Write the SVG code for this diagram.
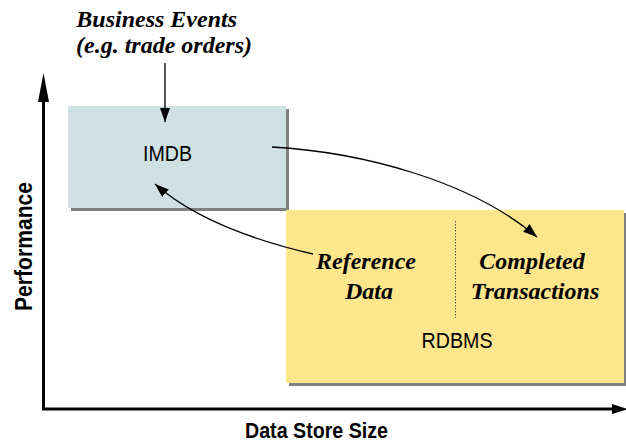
<svg xmlns="http://www.w3.org/2000/svg" width="626" height="445" viewBox="0 0 626 445">
  <style>
    .sans { font-family: "Liberation Sans", Arial, sans-serif; fill: #000; }
    .label { font-size: 22px; }
    .axis-label { font-weight: bold; }
    .serif-bi { font-family: "Liberation Serif", "Times New Roman", serif; font-weight: bold; font-style: italic; fill: #000; }
    .shadow { fill: #808080; }
    .conn { fill: none; stroke: #000; stroke-width: 1.3; }
    .axis { fill: none; stroke: #000; stroke-width: 3; }
  </style>
  <defs>
    <marker id="arrow" viewBox="0 0 14 10" refX="14" refY="5" markerWidth="14" markerHeight="10" markerUnits="userSpaceOnUse" orient="auto">
      <path d="M0,0 L14,5 L0,10 Z" fill="#000"/>
    </marker>
  </defs>

  <!-- axes -->
  <g id="axes">
    <polyline class="axis" points="43.5,98 43.5,409 615,409"/>
    <polygon points="43.5,73 38,102 49,102" fill="#000"/>
    <polygon points="612,404 612,414 628,409" fill="#000"/>
    <text class="sans axis-label" x="316.5" y="438" font-size="22" text-anchor="middle" textLength="143" lengthAdjust="spacingAndGlyphs">Data Store Size</text>
    <text class="sans axis-label" font-size="24" text-anchor="middle" textLength="129" lengthAdjust="spacingAndGlyphs" transform="translate(32,246.5) rotate(-90)">Performance</text>
  </g>

  <!-- in-memory database -->
  <g id="imdb">
    <rect class="shadow" x="71" y="109" width="218" height="102"/>
    <rect x="68" y="106" width="218" height="102" fill="#d0e1e4"/>
    <text class="sans label" x="167.5" y="161" text-anchor="middle" textLength="49" lengthAdjust="spacingAndGlyphs">IMDB</text>
  </g>

  <!-- relational database -->
  <g id="rdbms">
    <rect class="shadow" x="289" y="213" width="338" height="173"/>
    <rect x="286" y="210" width="338" height="173" fill="#fde68c"/>
    <line x1="455.5" y1="221" x2="455.5" y2="318" stroke="#555" stroke-width="1" stroke-dasharray="1.5,1.5"/>
    <text class="serif-bi" font-size="24" text-anchor="middle">
      <tspan x="369" y="269">Reference</tspan>
      <tspan x="369" y="299">Data</tspan>
    </text>
    <text class="serif-bi" font-size="24" text-anchor="middle">
      <tspan x="535" y="269">Completed</tspan>
      <tspan x="535" y="299">Transactions</tspan>
    </text>
    <text class="sans label" x="457" y="348" text-anchor="middle" textLength="71" lengthAdjust="spacingAndGlyphs">RDBMS</text>
  </g>

  <!-- incoming events -->
  <g id="events">
    <text class="serif-bi" font-size="24" text-anchor="end">
      <tspan x="243" y="26.5">Business Events</tspan>
      <tspan x="252" y="52.5">(e.g. trade orders)</tspan>
    </text>
  </g>

  <!-- connectors -->
  <g id="connectors">
    <path class="conn" d="M165,63 L165,122" marker-end="url(#arrow)"/>
    <path class="conn" d="M272,147 C360,152 470,180 537,237" marker-end="url(#arrow)"/>
    <path class="conn" d="M313,254 C270,244 200,224 155,184" marker-end="url(#arrow)"/>
  </g>
</svg>
